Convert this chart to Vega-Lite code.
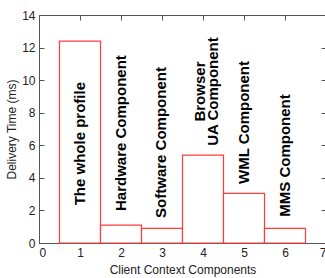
{
  "$schema": "https://vega.github.io/schema/vega-lite/v6.json",
  "autosize": "none",
  "padding": {"left": 39, "top": 15, "right": 10, "bottom": 35},
  "width": 287,
  "height": 228,
  "background": "white",
  "config": {
    "view": {"stroke": "#555", "strokeWidth": 1},
    "font": "Liberation Sans",
    "axis": {
      "domainColor": "#555",
      "tickColor": "#555",
      "tickSize": -5,
      "labelColor": "#222",
      "labelFont": "Liberation Sans",
      "labelFontSize": 12,
      "titleFont": "Liberation Sans",
      "titleFontSize": 12,
      "titleFontWeight": "normal",
      "titleColor": "#222",
      "grid": false
    }
  },
  "datasets": {
    "bars": [
      {"component": 1, "start": 0.5, "end": 1.5, "time": 12.4},
      {"component": 2, "start": 1.5, "end": 2.5, "time": 1.1},
      {"component": 3, "start": 2.5, "end": 3.5, "time": 0.9},
      {"component": 4, "start": 3.5, "end": 4.5, "time": 5.4},
      {"component": 5, "start": 4.5, "end": 5.5, "time": 3.05},
      {"component": 6, "start": 5.5, "end": 6.5, "time": 0.9}
    ],
    "labels": [
      {"x": 1.0, "y": 6.1, "label": "The whole profile"},
      {"x": 2.0, "y": 6.75, "label": "Hardware Component"},
      {"x": 2.98, "y": 6.17, "label": "Software Component"},
      {"x": 3.92, "y": 9.3, "label": "Browser\nUA Component"},
      {"x": 5.0, "y": 7.4, "label": "WML Component"},
      {"x": 6.0, "y": 5.37, "label": "MMS Component"}
    ]
  },
  "resolve": {"axis": {"x": "independent", "y": "independent"}},
  "layer": [
    {
      "data": {"name": "bars"},
      "mark": {"type": "rect", "fill": "white", "stroke": "#ff3b3b", "strokeWidth": 1.2},
      "encoding": {
        "x": {"field": "start", "type": "quantitative",
              "scale": {"domain": [0, 7], "nice": false, "zero": false},
              "axis": {"orient": "bottom", "title": "Client Context Components", "values": [0,1,2,3,4,5,6,7], "labelPadding": 9, "titlePadding": 6}},
        "x2": {"field": "end"},
        "y": {"field": "time", "type": "quantitative",
              "scale": {"domain": [0, 14], "nice": false},
              "axis": {"orient": "left", "title": "Delivery Time (ms)", "values": [0,2,4,6,8,10,12,14], "labelPadding": 9, "titlePadding": 3}},
        "y2": {"datum": 0}
      }
    },
    {
      "data": {"name": "labels"},
      "mark": {"type": "text", "angle": 270, "align": "center", "baseline": "middle", "fontWeight": "bold", "fontSize": 15, "font": "Liberation Sans", "color": "black", "lineBreak": "\n", "lineHeight": 13},
      "encoding": {
        "x": {"field": "x", "type": "quantitative", "axis": {"orient": "top", "labels": false, "title": null, "values": [0,1,2,3,4,5,6,7]}},
        "y": {"field": "y", "type": "quantitative", "axis": {"orient": "right", "labels": false, "title": null, "values": [0,2,4,6,8,10,12,14]}},
        "text": {"field": "label"}
      }
    }
  ]
}
